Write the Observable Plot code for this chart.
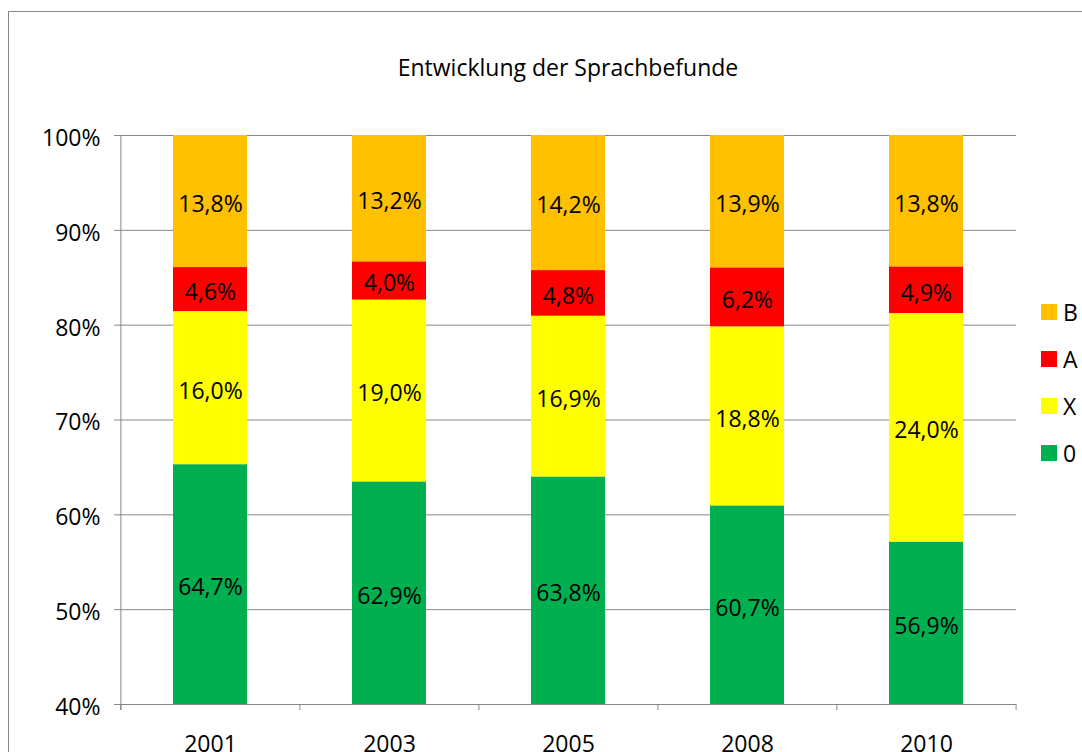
<!DOCTYPE html>
<html>
<head>
<meta charset="utf-8">
<script src="https://cdn.jsdelivr.net/npm/d3@7"></script>
<script src="https://cdn.jsdelivr.net/npm/@observablehq/plot@0.6"></script>
<style>
  html, body { margin: 0; padding: 0; background: #fff; overflow: hidden; }
  body { width: 1082px; height: 752px; position: relative; font-family: "Open Sans", sans-serif; }
  #frame { position: absolute; left: 8px; top: 11px; width: 1200px; height: 900px; border: 1px solid #868686; box-sizing: border-box; }
  #title { position: absolute; left: 0; width: 1136px; top: 51px; text-align: center; font-size: 23px; color: #000; line-height: 32px; }
  #chart { position: absolute; left: 0; top: 0; }
  #legend { position: absolute; left: 1041px; top: 288px; font-size: 23px; color: #000; }
  .item { display: flex; align-items: center; height: 47px; }
  .sw { width: 16px; height: 16px; margin-right: 6px; }
</style>
</head>
<body>
<div id="frame"></div>
<div id="title">Entwicklung der Sprachbefunde</div>
<div id="chart"></div>
<div id="legend"></div>
<script>
const years = ["2001", "2003", "2005", "2008", "2010"];
const series = ["0", "X", "A", "B"];
const colors = ["#00B050", "#FFFF00", "#FF0000", "#FFC000"];
const v0 = [64.7, 62.9, 63.8, 60.7, 56.9];
const vX = [16.0, 19.0, 16.9, 18.8, 24.0];
const vA = [4.6, 4.0, 4.8, 6.2, 4.9];
const vB = [13.8, 13.2, 14.2, 13.9, 13.8];
const yTicks = [0.4, 0.5, 0.6, 0.7, 0.8, 0.9, 1.0];

const valuesBySeries = [v0, vX, vA, vB];
const rows = [];
years.forEach((yr, i) => {
  const total = valuesBySeries.reduce((s, arr) => s + arr[i], 0);
  let acc = 0;
  series.forEach((s, k) => {
    const v = valuesBySeries[k][i];
    const lo = acc / total;
    acc += v;
    const hi = acc / total;
    rows.push({year: yr, series: s, value: v, lo, hi, mid: (Math.max(lo, 0.4) + hi) / 2});
  });
});

const W = 1082, H = 752;
const mL = 120, mR = 66, mT = 135, mB = 48;
const step = (W - mL - mR) / years.length;
const fmt = v => v.toFixed(1).replace(".", ",") + "%";
const gray = "#868686";

const plot = Plot.plot({
  width: W,
  height: H,
  marginLeft: mL,
  marginRight: mR,
  marginTop: mT,
  marginBottom: mB,
  style: {fontFamily: "Open Sans, sans-serif", fontSize: "23px", color: "#000", background: "transparent", overflow: "visible"},
  x: {domain: years, paddingInner: 0.587, paddingOuter: 0.2935, label: null},
  y: {domain: [0.4, 1], label: null},
  color: {domain: series, range: colors},
  marks: [
    Plot.ruleY(yTicks, {stroke: gray, strokeWidth: 1}),
    Plot.barY(rows, {x: "year", y1: "lo", y2: "hi", fill: "series", clip: true}),
    Plot.text(rows, {x: "year", y: "mid", text: d => fmt(d.value), fill: "#000", fontSize: 23, dy: 3}),
    // left axis line
    Plot.ruleX([years[0]], {x: d => d, dx: -step / 2, y1: 1, y2: 0.4, stroke: gray, insetBottom: -6}),
    // category separator ticks
    Plot.ruleX(years, {x: d => d, dx: -step / 2, y1: 0.4, y2: 0.4, stroke: gray, insetBottom: -6}),
    Plot.ruleX([years[years.length - 1]], {x: d => d, dx: step / 2, y1: 0.4, y2: 0.4, stroke: gray, insetBottom: -6}),
    // y tick marks (no text)
    Plot.axisY({ticks: yTicks, tickSize: 6, stroke: gray, tickFormat: () => "", label: null}),
    // y tick labels (no marks)
    Plot.axisY({ticks: yTicks, tickFormat: d3.format(".0%"), tickSize: 0, tickPadding: 20, fontSize: 23, fill: "#000", label: null, dy: 3}),
    Plot.axisX({tickSize: 0, tickPadding: 31, fontSize: 23, fill: "#000", label: null})
  ]
});
document.getElementById("chart").appendChild(plot);

const legend = document.getElementById("legend");
const order = [3, 2, 1, 0];
order.forEach(k => {
  const it = document.createElement("div");
  it.className = "item";
  const sw = document.createElement("div");
  sw.className = "sw";
  sw.style.background = colors[k];
  const t = document.createElement("span");
  t.textContent = series[k];
  it.appendChild(sw);
  it.appendChild(t);
  legend.appendChild(it);
});
</script>
</body>
</html>
